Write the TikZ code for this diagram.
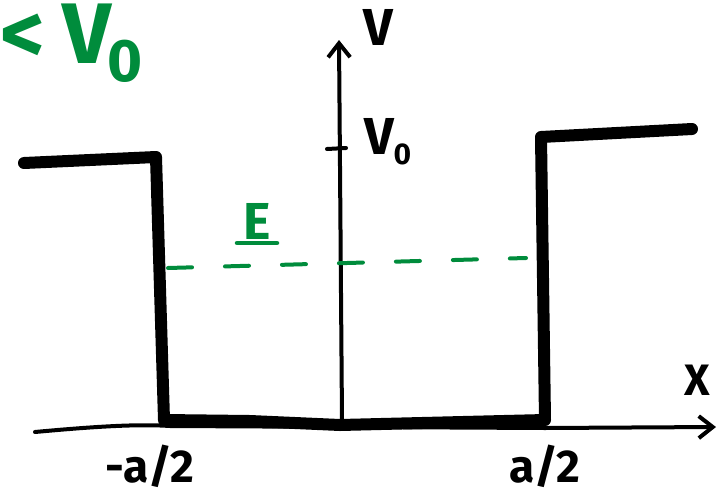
\documentclass[tikz,border=0pt]{standalone}
\usepackage{fontspec}
\setmainfont{Fira Sans}
\usetikzlibrary{arrows.meta}
\definecolor{pen}{RGB}{0,140,60}
\begin{document}
\begin{tikzpicture}[x=1pt,y=-1pt,
  axis/.style={line width=4pt,line cap=round,line join=round},
  well/.style={line width=12pt,line cap=round,line join=round},
  tip/.style={-{Straight Barb[length=14pt,width=22pt,line width=4pt]}},
  lbl/.style={font=\bfseries\fontsize{52}{52}\selectfont,inner sep=0pt},
  glbl/.style={text=pen,font=\bfseries\fontsize{86}{86}\selectfont,inner sep=0pt}]
\useasboundingbox (0,0) rectangle (723,493);
% axes
\coordinate (xs) at (35,432);
\coordinate (xe) at (716,427);
\draw[axis,tip] (xs) .. controls (100,426) and (140,424) .. (170,426) -- (545,428) -- (xe);
\coordinate (vs) at (342,420);
\coordinate (ve) at (339,40);
\draw[axis,tip] (vs) -- (ve);
% V0 tick
\coordinate (t1) at (327,149);
\coordinate (t2) at (346,148);
\draw[axis] (t1) -- (t2);
% well
\coordinate (p1) at (24,163);
\coordinate (p2) at (156,157);
\coordinate (p3) at (164,420);
\coordinate (p4) at (340,425);
\coordinate (p5) at (545,420);
\coordinate (p6) at (541,137);
\coordinate (p7) at (692,129);
\draw[well] (p1) -- (p2) -- (p3) -- (250,421) -- (p4) -- (p5) -- (p6) -- (p7);
% energy line
\coordinate (e1) at (168,268);
\coordinate (e2) at (526,258);
\draw[pen,line width=4pt,line cap=round,dash pattern=on 24pt off 33pt] (e1) -- (e2);
% labels
\node[lbl,anchor=center] (vl) at (378,27) {V};
\node[lbl,anchor=center] (v0) at (388,142) {V\kern-1pt\raisebox{-10pt}{\fontsize{30}{30}\selectfont 0}};
\node[lbl,anchor=center] (xl) at (697,380) {\fontsize{44}{44}\selectfont X};
\node[lbl,anchor=center] (ma) at (150,466) {\fontsize{46}{46}\selectfont -a/2};
\node[lbl,anchor=center] (pa) at (545,466) {\fontsize{46}{46}\selectfont a/2};
\node[lbl,text=pen,anchor=center] (el) at (257,221) {E};
\coordinate (u1) at (237,243);
\coordinate (u2) at (277,243);
\draw[pen,line width=4.5pt,line cap=round] (u1) -- (u2);
\node[glbl,anchor=base west] (cond) at (0,63) {<\hspace{18pt}V\kern-4pt\raisebox{-18pt}{\fontsize{60}{60}\selectfont 0}};
\end{tikzpicture}
\end{document}
